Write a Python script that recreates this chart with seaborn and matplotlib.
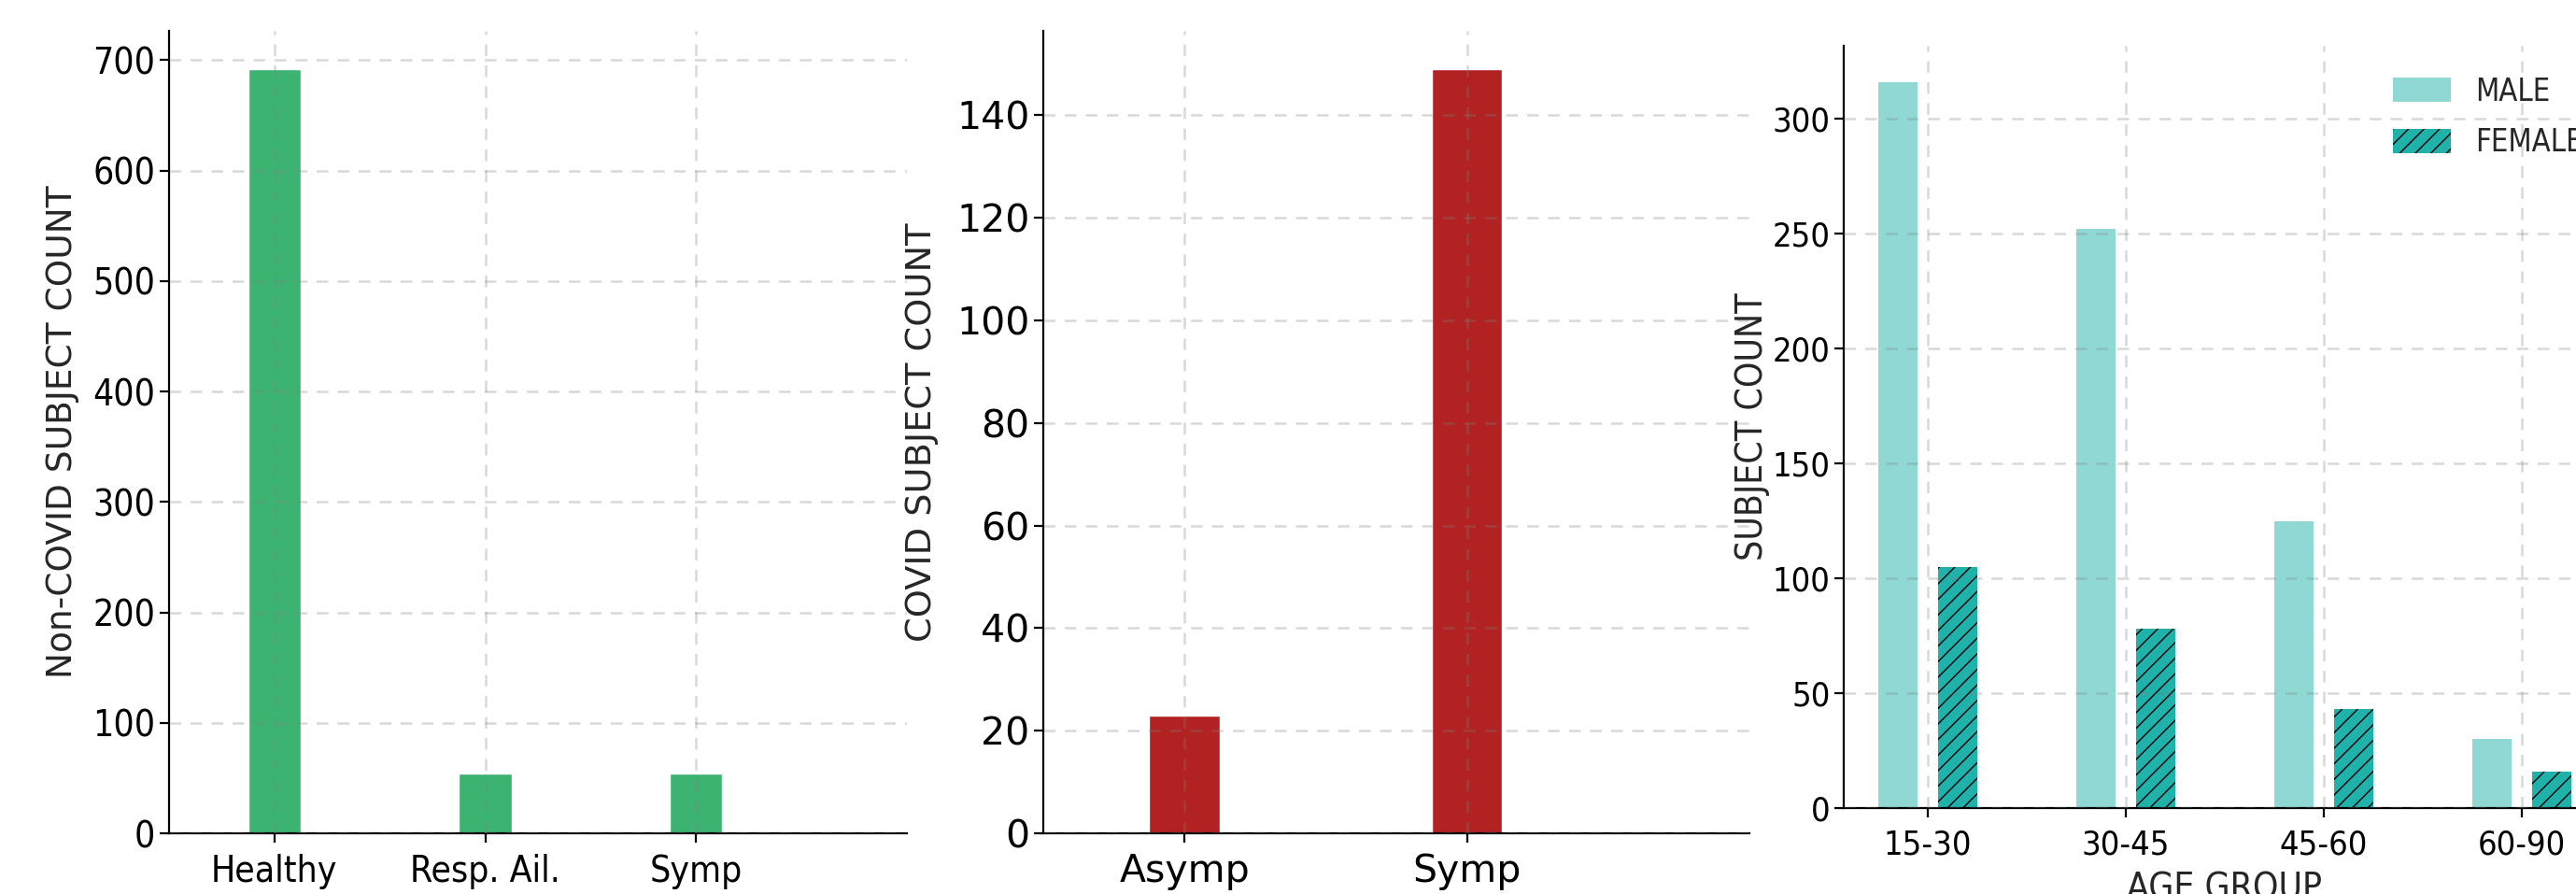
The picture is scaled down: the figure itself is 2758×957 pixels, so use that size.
import pandas as pd
import numpy as np
import seaborn as sns
import matplotlib.pyplot as plt
from matplotlib.patches import Patch

# data
noncovid_labels = ['Healthy', 'Resp. Ail.', 'Symp']
noncovid_counts = [692, 54, 54]

covid_labels = ['Asymp', 'Symp']
covid_counts = [23, 149]

age_groups = ['15-30', '30-45', '45-60', '60-90']
male_counts = [316, 252, 125, 30]
female_counts = [105, 78, 43, 16]

GREEN = '#3cb371'
RED = '#b22222'
TEAL = '#20b2aa'

W, H = 2758, 957
sns.set_style('ticks')
plt.rcParams['font.family'] = ['DejaVu Sans']


def style_axes(ax, fs, stretch, pad=6):
    ax.spines[['top', 'right']].set_visible(False)
    for s in ['left', 'bottom']:
        ax.spines[s].set_linewidth(1.6)
        ax.spines[s].set_color('black')
    ax.tick_params(axis='both', length=7, width=1.6, labelsize=fs, colors='black')
    ax.tick_params(axis='x', pad=pad)
    for lab in ax.get_xticklabels() + ax.get_yticklabels():
        lab.set_fontstretch(stretch)
    ax.grid(True, linestyle='--', color='gray', alpha=0.3, linewidth=1.8, dashes=(5, 4))
    ax.set_axisbelow(False)


def px_axes(fig, left, right, top, bottom):
    return fig.add_axes([left / W, 1 - bottom / H, (right - left) / W, (bottom - top) / H])


fig = plt.figure(figsize=(W / 100, H / 100), dpi=100)

# panel 1: non-covid
ax1 = px_axes(fig, 181, 971, 33, 892)
df1 = pd.DataFrame({'cat': noncovid_labels, 'count': noncovid_counts})
sns.barplot(data=df1, x='cat', y='count', color=GREEN, saturation=1,
            width=0.25, errorbar=None, ax=ax1)
ax1.set_xlim(-0.5, 3.0)
ax1.set_xlabel('')
ax1.set_ylabel('Non-COVID SUBJECT COUNT', fontsize=27, labelpad=10)
style_axes(ax1, 28, 'condensed', pad=9)

# panel 2: covid
ax2 = px_axes(fig, 1117, 1873, 33, 892)
df2 = pd.DataFrame({'cat': covid_labels, 'count': covid_counts})
sns.barplot(data=df2, x='cat', y='count', color=RED, saturation=1,
            width=0.25, errorbar=None, ax=ax2)
ax2.set_xlim(-0.5, 2.0)
ax2.set_xlabel('')
ax2.set_ylabel('COVID SUBJECT COUNT', fontsize=27.5, labelpad=14)
style_axes(ax2, 29.5, 'normal', pad=8)

# panel 3: age / sex (right edge runs past the figure, as in the reference)
ax3 = px_axes(fig, 1974, 2790, 49, 865)
df3 = pd.DataFrame({
    'age': age_groups * 2,
    'sex': ['MALE'] * len(age_groups) + ['FEMALE'] * len(age_groups),
    'count': male_counts + female_counts,
})
sns.barplot(data=df3, x='age', y='count', hue='sex',
            palette={'MALE': TEAL, 'FEMALE': TEAL}, saturation=1,
            width=0.6, gap=1 / 3, errorbar=None, legend=False, ax=ax3)
for p in ax3.containers[0]:
    p.set_alpha(0.5)
    p.set_linewidth(0)
for p in ax3.containers[1]:
    p.set_hatch('//')
    p.set_edgecolor('black')
    p.set_linewidth(0)
ax3.set_xlim(-0.425, 3.425)
ax3.set_xlabel('AGE GROUP', fontsize=28, fontstretch='condensed', labelpad=8)
ax3.set_ylabel('SUBJECT COUNT', fontsize=28, fontstretch='condensed', labelpad=2)
style_axes(ax3, 26, 'condensed', pad=9)
handles = [Patch(facecolor=TEAL, alpha=0.5, linewidth=0),
           Patch(facecolor=TEAL, hatch='//', edgecolor='black', linewidth=0)]
leg = ax3.legend(handles, ['MALE', 'FEMALE'], loc='upper right', frameon=False,
                 prop={'size': 23.5, 'stretch': 'condensed'},
                 handlelength=1.9, handleheight=0.85, handletextpad=0.8,
                 labelspacing=0.65, borderaxespad=0.6,
                 bbox_to_anchor=(1.01, 1.0))

fig.savefig('out.png', dpi=100)
